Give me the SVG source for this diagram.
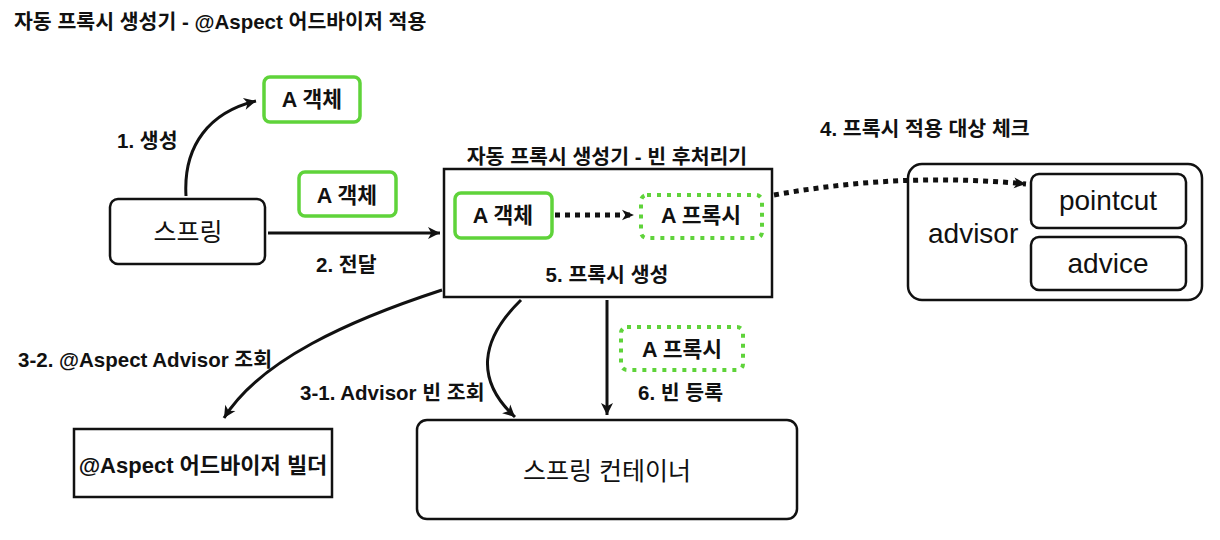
<svg xmlns="http://www.w3.org/2000/svg" width="1220" height="540" viewBox="0 0 1220 540">
<style>
text{font-family:"Liberation Sans","Noto Sans CJK KR",sans-serif;fill:#111;}
.t{font-size:20.5px;font-weight:bold;}
.lbl{font-size:20.5px;font-weight:bold;}
.in{font-size:21.5px;font-weight:bold;}
.big{font-size:28px;}
.box{fill:#fff;stroke:#111;stroke-width:2.5;}
.gs{fill:#fff;stroke:#5fd33a;stroke-width:3.5;}
.gd{fill:#fff;stroke:#5fd33a;stroke-width:4;stroke-dasharray:4 6;}
.c{fill:none;stroke:#111;stroke-width:3;marker-end:url(#ah);}
.cd{fill:none;stroke:#111;stroke-width:5;stroke-dasharray:5 5;marker-end:url(#ah2);}
.mid{text-anchor:middle;}
</style>
<defs>
<marker id="ah" viewBox="0 0 12 12" refX="10" refY="6" markerWidth="8" markerHeight="8" markerUnits="userSpaceOnUse" orient="auto" overflow="visible">
<path d="M-8,-3 L10,6 L-8,15 L-3,6 Z" fill="#111"/>
</marker>
<marker id="ah2" viewBox="0 0 12 12" refX="10" refY="6" markerWidth="8" markerHeight="8" markerUnits="userSpaceOnUse" orient="auto" overflow="visible">
<path d="M-8,-2 L10,6 L-8,14 L-3,6 Z" fill="#111"/>
</marker>
</defs>
<rect width="1220" height="540" fill="#fff"/>
<text x="14" y="29" class="t">자동 프록시 생성기 - @Aspect 어드바이저 적용</text>

<g id="spring">
<rect class="box" x="110" y="199" width="155" height="65" rx="8"/>
<text x="188" y="241" class="mid" style="font-size:25px">스프링</text>
</g>
<g id="a-obj-1">
<rect class="gs" x="264" y="77" width="96" height="45" rx="6"/>
<text x="312" y="107" class="mid in">A 객체</text>
</g>
<text x="117" y="148" class="lbl">1. 생성</text>
<g id="a-obj-2">
<rect class="gs" x="299" y="172" width="97" height="44" rx="6"/>
<text x="347" y="203" class="mid in">A 객체</text>
</g>
<text x="316" y="272" class="lbl">2. 전달</text>

<g id="bpp">
<text x="607" y="164" class="mid lbl">자동 프록시 생성기 - 빈 후처리기</text>
<rect class="box" x="444" y="169" width="328" height="128"/>
<g id="a-obj-3">
<rect class="gs" x="455" y="193" width="97" height="45" rx="6"/>
<text x="503" y="223" class="mid in">A 객체</text>
</g>
<g id="a-proxy-1">
<rect class="gd" x="641" y="195" width="121" height="43" rx="6"/>
<text x="701" y="223" class="mid in">A 프록시</text>
</g>
<text x="607" y="282" class="mid lbl">5. 프록시 생성</text>
</g>

<text x="820" y="136" class="lbl">4. 프록시 적용 대상 체크</text>
<g id="advisor">
<rect class="box" x="908" y="164" width="294" height="136" rx="14"/>
<text x="928" y="243" class="big">advisor</text>
<g id="pointcut">
<rect class="box" x="1031" y="174" width="155" height="54" rx="8"/>
<text x="1108" y="210" class="mid big">pointcut</text>
</g>
<g id="advice">
<rect class="box" x="1031" y="237" width="155" height="53" rx="8"/>
<text x="1108" y="273" class="mid big">advice</text>
</g>
</g>

<text x="18" y="367" class="lbl">3-2. @Aspect Advisor 조회</text>
<text x="300" y="400" class="lbl">3-1. Advisor 빈 조회</text>

<g id="aspect-builder">
<rect class="box" x="74" y="429" width="258" height="68"/>
<text x="203" y="473" class="mid" style="font-size:22px;font-weight:bold">@Aspect 어드바이저 빌더</text>
</g>

<g id="a-proxy-2">
<rect class="gd" x="621" y="327" width="122" height="43" rx="6"/>
<text x="682" y="357" class="mid in">A 프록시</text>
</g>
<text x="638" y="400" class="lbl">6. 빈 등록</text>

<g id="container">
<rect class="box" x="417" y="420" width="380" height="99" rx="10"/>
<text x="607" y="480" class="mid" style="font-size:25px">스프링 컨테이너</text>
</g>

<g id="connectors">
<path class="c" d="M186,196 C183,145 210,112 256,101"/>
<path class="c" d="M268,233 L440,233"/>
<path class="cd" d="M555,215 L634,215"/>
<path class="cd" d="M774,195 Q900,172 1026,184"/>
<path class="c" d="M442,290 C350,320 260,360 224,418"/>
<path class="c" d="M521,300 C480,340 475,380 515,417"/>
<path class="c" d="M607,300 L607,415"/>
</g>
</svg>
